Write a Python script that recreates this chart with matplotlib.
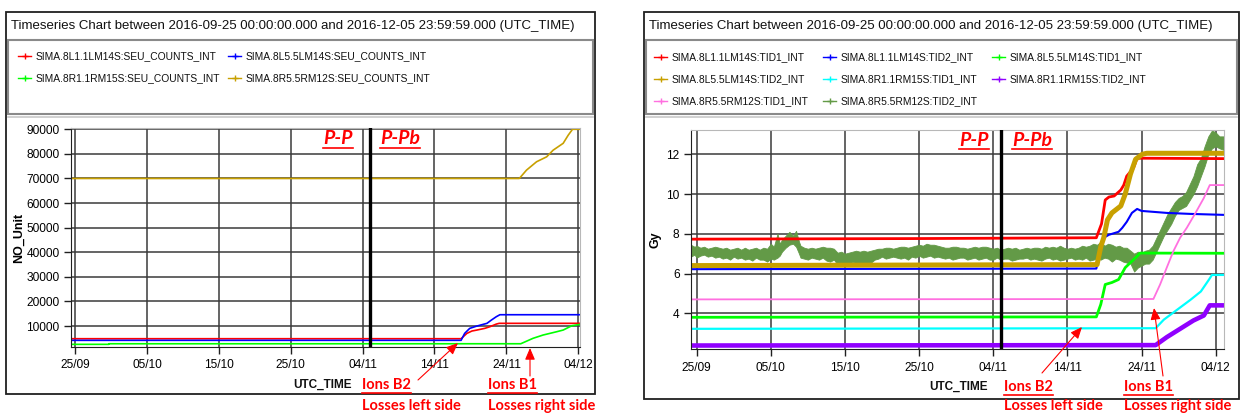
import numpy as np
import pandas as pd
import matplotlib
matplotlib.use("Agg")
import matplotlib.pyplot as plt
import matplotlib.dates as mdates
from matplotlib.lines import Line2D
from matplotlib.patches import Rectangle, FancyArrowPatch

W, H = 1245, 415
START = pd.Timestamp("2016-09-25")

TITLE = "Timeseries Chart between 2016-09-25 00:00:00.000 and 2016-12-05 23:59:59.000 (UTC_TIME)"
tick_days = [0, 10, 20, 30, 40, 50, 60, 70]

# --- SEU counters (days since 25/09, counts) ---
seu_names = ["SIMA.8L1.1LM14S:SEU_COUNTS_INT", "SIMA.8L5.5LM14S:SEU_COUNTS_INT",
             "SIMA.8R1.1RM15S:SEU_COUNTS_INT", "SIMA.8R5.5RM12S:SEU_COUNTS_INT"]
seu_colors = ["#ff0000", "#0000ff", "#00ff00", "#c8a000"]
seu_l1_days = [-0.6, 53.7, 54.5, 55.2, 55.9, 57.0, 57.7, 58.6, 59.0, 70.3]
seu_l1_vals = [4850, 4850, 7000, 7970, 8370, 9060, 9720, 10800, 11100, 11100]
seu_l5_days = [-0.6, 53.7, 54.2, 54.9, 55.9, 57.3, 57.9, 58.6, 59.1, 70.3]
seu_l5_vals = [4190, 4190, 7030, 9050, 10000, 11100, 12400, 13800, 14600, 14600]
seu_r1_days = [-0.6, 4.7, 4.7, 62.0, 63.7, 65.1, 67.0, 67.9, 69.1, 70.3]
seu_r1_vals = [2560, 2560, 2800, 2800, 5000, 6340, 7690, 8370, 10120, 10700]
seu_r5_days = [-0.6, 61.8, 62.8, 64.2, 65.6, 66.5, 67.9, 68.6, 69.2, 70.3]
seu_r5_vals = [70000, 70000, 73400, 76800, 78800, 81500, 84300, 87600, 90000, 90000]

# --- integrated dose (days since 25/09, Gy) ---
tid_names = ["SIMA.8L1.1LM14S:TID1_INT", "SIMA.8L1.1LM14S:TID2_INT", "SIMA.8L5.5LM14S:TID1_INT",
             "SIMA.8L5.5LM14S:TID2_INT", "SIMA.8R1.1RM15S:TID1_INT", "SIMA.8R1.1RM15S:TID2_INT",
             "SIMA.8R5.5RM12S:TID1_INT", "SIMA.8R5.5RM12S:TID2_INT"]
tid_colors = ["#ff0000", "#0000ff", "#00ff00", "#c8a000", "#00ffff", "#9000ff", "#ff70e0", "#639a47"]
tid_widths = [2.0, 1.5, 2.0, 3.6, 1.6, 3.3, 1.3, 1.0]

l1_tid1_days = [-0.8, 30, 53.9, 54.6, 55.1, 55.6, 56.3, 57.2, 57.6, 58.0, 58.9, 59.4, 60.3, 71.2]
l1_tid1_vals = [7.73, 7.76, 7.8, 8.5, 9.7, 9.85, 9.9, 10.2, 10.45, 10.9, 11.3, 11.8, 11.8, 11.78]
l1_tid2_days = [-0.8, 53.9, 54.9, 55.6, 56.9, 57.4, 58.0, 58.7, 59.4, 60.0, 63.4, 66.6, 71.2]
l1_tid2_vals = [6.22, 6.25, 7.8, 7.95, 8.1, 8.3, 8.6, 9.05, 9.25, 9.15, 9.05, 9.0, 8.95]
l5_tid1_days = [-0.8, 53.9, 54.5, 55.1, 56.0, 56.9, 57.8, 58.5, 59.2, 59.8, 71.2]
l5_tid1_vals = [3.8, 3.82, 4.45, 5.45, 5.55, 5.7, 6.3, 6.55, 6.8, 7.03, 7.02]
l5_tid2_days = [-0.8, 54.0, 54.5, 54.9, 55.4, 56.0, 57.2, 57.8, 58.5, 59.2, 60.1, 60.7, 71.2]
l5_tid2_vals = [6.4, 6.45, 7.35, 7.8, 8.7, 9.05, 9.4, 10.0, 11.0, 11.75, 12.0, 12.05, 12.05]
r1_tid1_days = [-0.8, 61.9, 63.0, 64.8, 66.6, 68.0, 69.1, 69.5, 71.2]
r1_tid1_vals = [3.22, 3.25, 3.68, 4.18, 4.68, 5.1, 5.7, 5.93, 5.93]
r1_tid2_days = [-0.8, 61.9, 63.4, 65.2, 67.0, 68.4, 69.2, 71.2]
r1_tid2_vals = [2.38, 2.4, 2.8, 3.22, 3.64, 3.89, 4.4, 4.4]
r5_tid1_days = [-0.8, 61.6, 62.5, 63.4, 64.3, 65.2, 66.1, 67.2, 68.4, 69.2, 71.2]
r5_tid1_vals = [4.7, 4.72, 5.45, 6.3, 7.13, 7.8, 8.3, 9.0, 9.8, 10.45, 10.45]

# R5 TID2 is a noisy channel: low / high envelope read every half day or so
r5_tid2_days = [-0.8, -0.3, 0, 0.5, 1, 1.5, 2, 2.5, 3, 3.5, 4, 4.5, 5, 5.5, 6,
                6.5, 7, 7.5, 8, 8.5, 9, 9.5, 10, 10.4, 10.9, 11.2, 11.5, 12, 12.5, 13,
                13.4, 13.8, 14, 14.5, 15, 15.5, 16, 16.5, 17, 17.5, 18, 18.5, 19, 19.5, 20,
                20.5, 21, 21.5, 22, 22.5, 23, 23.5, 24, 24.5, 25, 25.5, 26, 26.5, 27, 27.5,
                28, 28.5, 29, 29.5, 30, 30.5, 31, 31.5, 32, 32.5, 33, 33.5, 34, 34.5, 35,
                35.5, 36, 36.5, 37, 37.5, 38, 38.5, 39, 39.5, 40, 40.5, 41, 41.5, 42, 42.5,
                43, 43.5, 44, 44.5, 45, 45.5, 46, 46.5, 47, 47.5, 48, 48.5, 49, 49.5, 50,
                50.5, 51, 51.5, 52, 52.5, 53, 53.5, 54, 54.5, 55, 55.5, 56, 56.5, 57, 57.5,
                58, 58.5, 59, 59.5, 60, 60.5, 61, 61.5, 62, 62.5, 63, 63.5, 64, 64.5,
                65, 65.5, 66, 66.5, 67, 67.5, 68, 68.5, 69, 69.5, 70, 70.5, 71.2]
r5_tid2_low = [6.85, 6.95, 6.8, 6.9, 6.95, 6.85, 6.9, 6.8, 6.85, 6.75, 6.8, 6.7, 6.85, 6.75, 6.8,
               6.7, 6.75, 6.65, 6.8, 6.7, 6.7, 6.6, 6.75, 6.7, 6.8, 6.9, 7.1, 7.3, 7.45, 7.5,
               7.35, 7.0, 6.8, 6.75, 6.7, 6.8, 6.75, 6.7, 6.8, 6.65, 6.6, 6.7, 6.45, 6.55, 6.5,
               6.4, 6.6, 6.5, 6.55, 6.45, 6.4, 6.55, 6.7, 6.75, 6.85, 6.75, 6.8, 6.85, 6.8, 6.75,
               6.8, 6.7, 6.85, 6.8, 6.9, 6.8, 6.85, 6.9, 6.8, 6.85, 6.8, 6.75, 6.8, 6.7, 6.75,
               6.8, 6.8, 6.7, 6.75, 6.8, 6.7, 6.75, 6.8, 6.7, 6.7, 6.8, 6.7, 6.75, 6.75, 6.65,
               6.7, 6.75, 6.75, 6.8, 6.7, 6.75, 6.7, 6.65, 6.75, 6.8, 6.7, 6.75, 6.65, 6.7, 6.75,
               6.8, 6.7, 6.75, 6.7, 6.8, 6.65, 6.7, 6.75, 6.7, 6.8, 6.75, 6.6, 6.75, 6.7, 6.6,
               6.55, 6.5, 6.1, 6.3, 6.4, 6.5, 6.5, 6.7, 7.1, 7.5, 7.9, 8.2, 8.5, 8.9,
               9.2, 9.3, 9.4, 9.7, 10.0, 10.4, 10.9, 11.4, 12.0, 12.3, 12.4, 12.3, 12.2]
r5_tid2_high = [7.45, 7.35, 7.4, 7.3, 7.35, 7.25, 7.3, 7.35, 7.3, 7.25, 7.3, 7.2, 7.25, 7.3, 7.2,
                7.3, 7.2, 7.25, 7.3, 7.2, 7.3, 7.25, 7.5, 7.35, 8.0, 7.5, 7.7, 7.9, 8.1, 7.9,
                8.15, 7.6, 7.4, 7.3, 7.25, 7.3, 7.25, 7.3, 7.35, 7.3, 7.3, 7.25, 7.05, 7.1, 7.0,
                7.05, 7.1, 7.15, 7.1, 7.15, 7.1, 7.15, 7.2, 7.25, 7.25, 7.3, 7.3, 7.25, 7.3, 7.35,
                7.35, 7.3, 7.35, 7.4, 7.45, 7.4, 7.5, 7.45, 7.45, 7.4, 7.35, 7.3, 7.3, 7.35, 7.35,
                7.3, 7.3, 7.25, 7.3, 7.35, 7.3, 7.35, 7.35, 7.3, 7.25, 7.3, 7.2, 7.25, 7.3, 7.25,
                7.3, 7.2, 7.25, 7.3, 7.25, 7.3, 7.3, 7.25, 7.35, 7.3, 7.35, 7.3, 7.4, 7.3, 7.25,
                7.3, 7.25, 7.3, 7.4, 7.35, 7.4, 7.5, 7.45, 7.6, 7.4, 7.5, 7.45, 7.35, 7.4, 7.3,
                7.3, 7.15, 7.0, 7.1, 7.05, 7.15, 7.2, 7.4, 7.8, 8.2, 8.6, 9.0, 9.3, 9.6,
                9.8, 9.9, 10.1, 10.5, 10.9, 11.5, 11.8, 12.4, 12.9, 13.2, 13.1, 12.9, 12.9]

PP_SWITCH = 41.0  # p-p -> p-Pb change, days since 25/09

SANS = ["Liberation Sans", "DejaVu Sans"]
NOTE = ["Lato", "DejaVu Sans"]


def when(days):
    return START + pd.to_timedelta(np.asarray(days, dtype=float), unit="D")


def fx(x):
    return x / W


def fy(y):
    return 1 - y / H


def rect(x0, y0, x1, y1):
    return [fx(x0), fy(y1), (x1 - x0) / W, (y1 - y0) / H]


fig = plt.figure(figsize=(W / 100, H / 100), dpi=100)
underlined = []


def frame(x0, y0, x1, y1, names, colors, cols, col_x, row_y):
    fig.add_artist(Rectangle((fx(x0), fy(y1)), (x1 - x0) / W, (y1 - y0) / H,
                             transform=fig.transFigure, fill=False, ec="#202020", lw=1.3))
    fig.add_artist(Rectangle((fx(x0 + 2), fy(y0 + 102)), (x1 - x0 - 4) / W, 74 / H,
                             transform=fig.transFigure, fill=False, ec="#8a8a8a", lw=1.5))
    fig.add_artist(Line2D([fx(x0 + 2), fx(x1 - 2)], [fy(y0 + 105)] * 2,
                          transform=fig.transFigure, color="#c8c8c8", lw=1.2))
    fig.text(fx(x0 + 5), fy(y0 + 14), TITLE, family=SANS, fontsize=9.5,
             va="center", ha="left", color="#111111")
    for i, (name, c) in enumerate(zip(names, colors)):
        cx = col_x[i % cols]
        cy = row_y[i // cols]
        fig.add_artist(Line2D([fx(cx), fx(cx + 13)], [fy(cy)] * 2, transform=fig.transFigure,
                              color=c, lw=1.0))
        fig.add_artist(Line2D([fx(cx + 6.5)], [fy(cy)], transform=fig.transFigure,
                              color=c, marker="+", markersize=5, mew=1.0))
        fig.text(fx(cx + 18), fy(cy), name, family=SANS, fontsize=7.4,
                 va="center", ha="left", color="#111111")


def style_axes(ax, ylabel):
    ax.grid(True, color="#3a3a3a", lw=1.1)
    ax.set_axisbelow(True)
    for s in ("top", "right"):
        ax.spines[s].set_color("#b8b8b8")
    for s in ("left", "bottom"):
        ax.spines[s].set_color("#202020")
    ax.set_xticks(when(tick_days))
    ax.xaxis.set_major_formatter(mdates.DateFormatter("%d/%m"))
    ax.tick_params(axis="both", direction="out", length=5, width=1, color="#202020",
                   labelsize=8.6, pad=3)
    ax.tick_params(axis="x", pad=4)
    for lab in ax.get_xticklabels() + ax.get_yticklabels():
        lab.set_family(SANS)
    ax.set_ylabel(ylabel, family=SANS, fontweight="bold", fontsize=9)


def markers(ax, pp_x, pp_y, pb_x):
    ax.axvline(when([PP_SWITCH])[0], color="black", lw=2.4, zorder=5)
    for txt, x in (("P-P", pp_x), ("P-Pb", pb_x)):
        t = fig.text(fx(x), fy(pp_y), txt, family=NOTE, fontsize=14, fontweight="bold",
                     style="italic", color="#ff0000", va="center", ha="left")
        underlined.append(t)


def notes(utc_x, b2_x, b1_x, y_top, y_bot, arrow_b2, arrow_b1):
    fig.text(fx(utc_x), fy(y_top), "UTC_TIME", family=SANS, fontsize=8.5,
             fontweight="bold", va="center", ha="right", color="#111111")
    for x, head, tail in ((b2_x, "Ions B2", "Losses left side"),
                          (b1_x, "Ions B1", "Losses right side")):
        t = fig.text(fx(x), fy(y_top), head, family=NOTE, fontsize=10.5, fontweight="bold",
                     color="#ff0000", va="center", ha="left")
        underlined.append(t)
        fig.text(fx(x), fy(y_bot), tail, family=NOTE, fontsize=10.5, fontweight="bold",
                 color="#ff0000", va="center", ha="left")
    for (xa, ya), (xb, yb) in (arrow_b2, arrow_b1):
        fig.add_artist(FancyArrowPatch((fx(xa), fy(ya)), (fx(xb), fy(yb)),
                                       transform=fig.transFigure, color="#ff0000", lw=0.8,
                                       arrowstyle="-|>,head_length=0.7,head_width=0.3",
                                       mutation_scale=10, shrinkA=0, shrinkB=0))


# ---------------- left: SEU counters ----------------
frame(6, 12, 595, 394, seu_names, seu_colors, 2, [18, 228], [56, 78])
ax1 = fig.add_axes(rect(70.7, 128.3, 580, 346.7))
ax1.plot(when(seu_l1_days), seu_l1_vals, color=seu_colors[0], lw=1.2)
ax1.plot(when(seu_l5_days), seu_l5_vals, color=seu_colors[1], lw=1.2)
ax1.plot(when(seu_r1_days), seu_r1_vals, color=seu_colors[2], lw=1.2)
ax1.plot(when(seu_r5_days), seu_r5_vals, color=seu_colors[3], lw=1.2)
ax1.set_xlim(when([-0.6])[0], when([70.24])[0])
ax1.set_ylim(1600, 90400)
ax1.set_yticks(range(10000, 90001, 10000))
style_axes(ax1, "NO_Unit")
ax1.yaxis.set_label_coords(-0.09, 0.5)
markers(ax1, 323, 139, 380)
notes(352, 362, 488, 385, 406, ((418, 380), (458, 343)), ((530, 376), (530, 348)))

# ---------------- right: integrated dose ----------------
frame(644, 12, 1239, 399, tid_names, tid_colors, 3, [654, 823, 992], [57, 79, 101])
ax2 = fig.add_axes(rect(690.7, 130, 1224.3, 349.3))
tid_series = [(l1_tid1_days, l1_tid1_vals), (l1_tid2_days, l1_tid2_vals),
              (l5_tid1_days, l5_tid1_vals), (l5_tid2_days, l5_tid2_vals),
              (r1_tid1_days, r1_tid1_vals), (r1_tid2_days, r1_tid2_vals),
              (r5_tid1_days, r5_tid1_vals)]
for (d, v), c, lw in zip(tid_series, tid_colors, tid_widths):
    ax2.plot(when(d), v, color=c, lw=lw, solid_capstyle="butt")
ax2.fill_between(when(r5_tid2_days), r5_tid2_low, r5_tid2_high, color=tid_colors[7],
                 lw=0.6, edgecolor=tid_colors[7])
ax2.set_xlim(when([-0.81])[0], when([71.16])[0])
ax2.set_ylim(2.19, 13.22)
ax2.set_yticks([4, 6, 8, 10, 12])
style_axes(ax2, "Gy")
ax2.yaxis.set_label_coords(-0.055, 0.5)
markers(ax2, 959, 140, 1012)
notes(988, 1004, 1124, 387, 406, ((1042, 373), (1082, 327)), ((1163, 376), (1154, 308)))

# underline the red labels
fig.canvas.draw()
r = fig.canvas.get_renderer()
for t in underlined:
    bb = t.get_window_extent(r)
    fig.add_artist(Line2D([bb.x0 / W, bb.x1 / W], [(bb.y0 - 1) / H] * 2,
                          transform=fig.transFigure, color="#ff0000", lw=1.2))

fig.savefig("out.png", dpi=100)
